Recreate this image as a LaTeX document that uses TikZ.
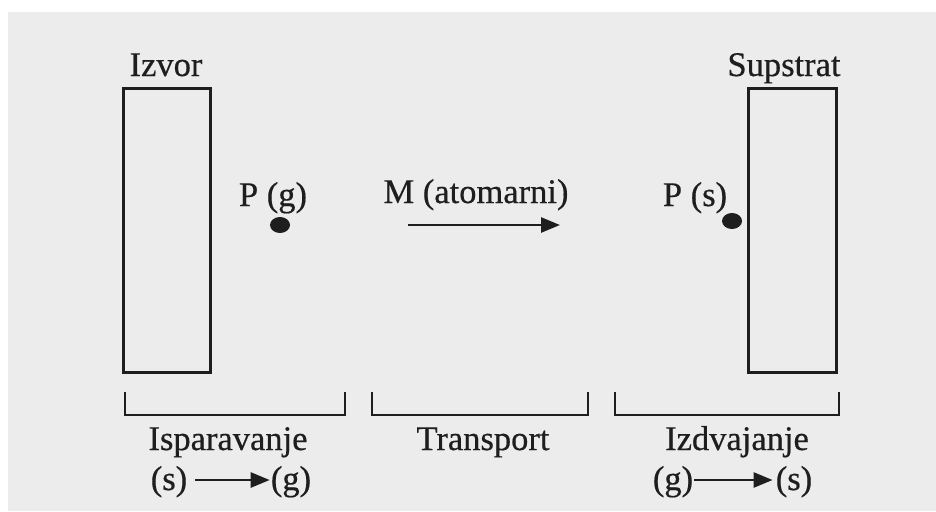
\documentclass[tikz,border=0pt]{standalone}
\usepackage{fontspec}
\setmainfont{Liberation Serif}
\newfontface\heavyface{Liberation Serif}[FakeBold=0.5]
\usetikzlibrary{arrows.meta,shapes.geometric}
\definecolor{bg}{HTML}{ECECEC}
\definecolor{ink}{HTML}{1E1E1E}
\tikzset{
  lbl/.style={inner sep=0pt, text=ink, font=\heavyface\fontsize{34.5}{40}\selectfont},
  box/.style={draw=ink, line width=3pt},
  brk/.style={draw=ink, line width=2.4pt},
  arr/.style={draw=ink, line width=2.6pt, -{Triangle[length=19pt,width=15pt]}},
  dot/.style={fill=ink, ellipse, inner sep=0pt, minimum width=20pt, minimum height=16pt}
}
\begin{document}
\begin{tikzpicture}[x=1pt,y=-1pt]
\useasboundingbox (0,0) rectangle (936,511);
\fill[white] (0,0) rectangle (936,511);
\fill[bg] (8,12) rectangle (936,511);
% boxes
\node[box, minimum width=87pt, minimum height=284pt, inner sep=0pt] (izvorbox) at (166.5,230) {};
\node[box, minimum width=88pt, minimum height=284pt, inner sep=0pt] (supbox) at (792,230) {};
\node[lbl, anchor=base] (izvor) at (166,76) {Izvor};
\node[lbl, anchor=base] (supstrat) at (784,76) {Supstrat};
% particles
\node[lbl, anchor=base] (pg) at (273,206) {P (g)};
\node[dot] (dotg) at (280,225) {};
\node[lbl, anchor=base] (ps) at (695,206) {P (s)};
\node[dot] (dots) at (732,221) {};
\node[lbl, anchor=base] (m) at (476,203) {M (atomarni)};
\coordinate (ma) at (408,225);
\coordinate (mb) at (560,225);
\draw[arr] (ma) -- (mb);
% brackets
\coordinate (b1a) at (125,392); \coordinate (b1b) at (345,392);
\coordinate (b2a) at (372,392); \coordinate (b2b) at (588,392);
\coordinate (b3a) at (615,392); \coordinate (b3b) at (839,392);
\draw[brk] (b1a) -- ++(0,23) -| (b1b);
\draw[brk] (b2a) -- ++(0,23) -| (b2b);
\draw[brk] (b3a) -- ++(0,23) -| (b3b);
\node[lbl, anchor=base] (isp) at (228,450) {Isparavanje};
\node[lbl, anchor=base] (tra) at (483,450) {Transport};
\node[lbl, anchor=base] (izd) at (737,450) {Izdvajanje};
% reactions
\node[lbl, anchor=base] (s1) at (169,490) {(s)};
\node[lbl, anchor=base] (g1) at (291,490) {(g)};
\draw[arr] ([xshift=8pt,yshift=10pt]s1.base east) -- ([xshift=-1pt,yshift=10pt]g1.base west);
\node[lbl, anchor=base] (g2) at (673,490) {(g)};
\node[lbl, anchor=base] (s2) at (794,490) {(s)};
\draw[arr] ([xshift=1pt,yshift=10pt]g2.base east) -- ([xshift=-3pt,yshift=10pt]s2.base west);
\end{tikzpicture}
\end{document}
